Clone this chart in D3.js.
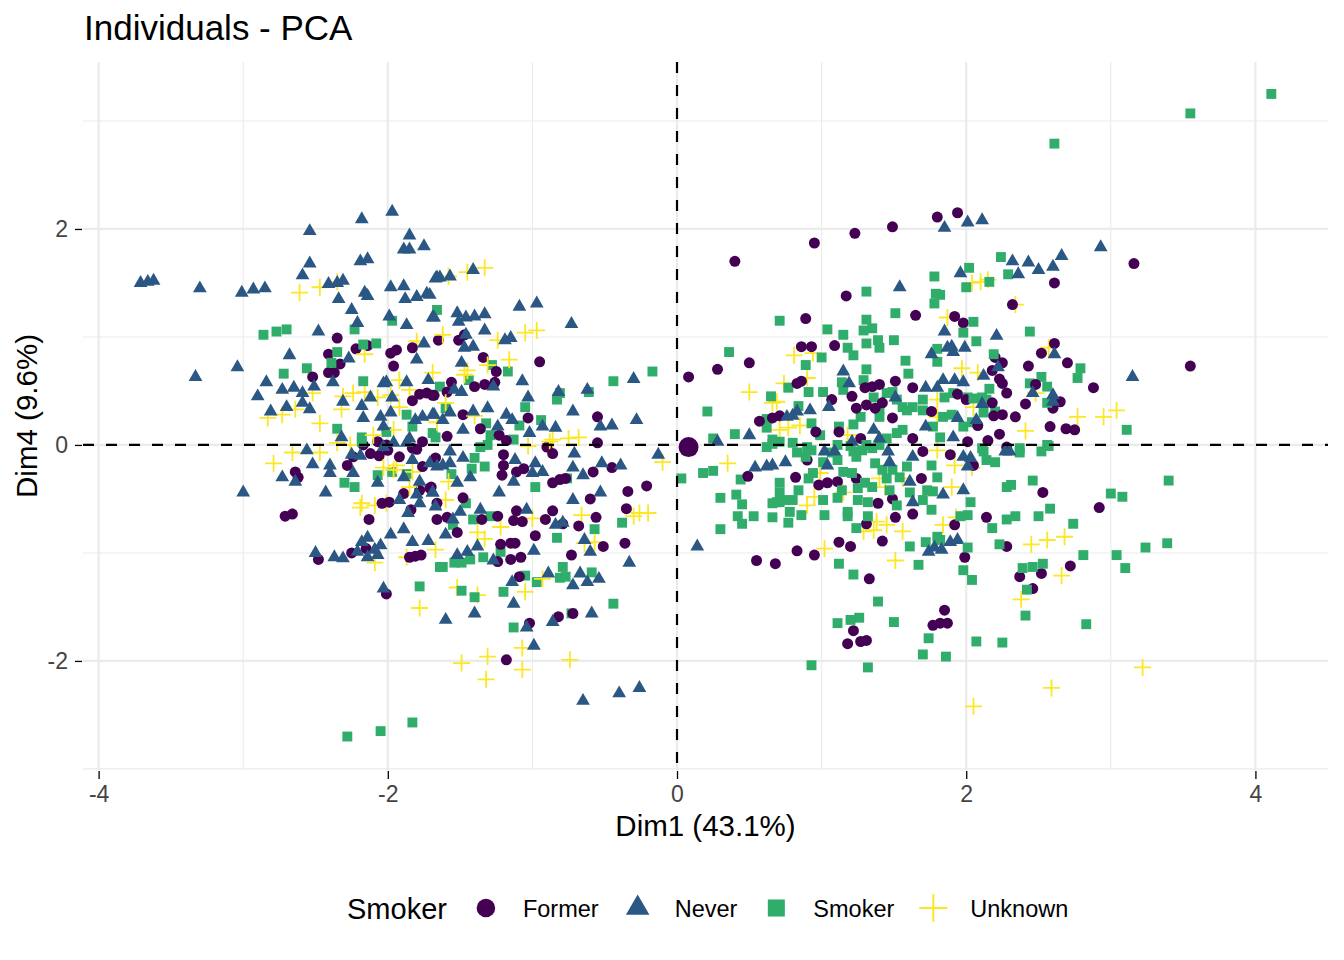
<!DOCTYPE html>
<html>
<head>
<meta charset="utf-8">
<script src="https://cdn.jsdelivr.net/npm/d3@7"></script>
<style>
body { margin: 0; background: #fff; }
text { font-family: "Liberation Sans", Arial, Helvetica, sans-serif; }
</style>
</head>
<body>
<svg id="chart" width="1344" height="960"></svg>
<script>
// categories and colours
var groups = ["Former", "Never", "Smoker", "Unknown"];
var colors = ["#440154", "#2A5783", "#30AD6B", "#FDE725"];

// tick values
var xMajor = [-4, -2, 0, 2, 4];
var xMinor = [-3, -1, 1, 3];
var yMajor = [-2, 0, 2];
var yMinor = [-3, -1, 1, 3];

// individuals, [Dim1, Dim4]
var former = [
[-2.35,0.99],[-2.41,0.84],[-2.22,0.89],[-2.14,0.92],[-2.33,0.75],[-2.41,0.67],[-2.37,0.67],[-2.52,0.63],[-1.98,0.85],[-1.94,0.88],
[-1.96,0.73],[-1.83,0.90],[-1.65,0.97],[-1.83,0.41],[-1.78,0.47],[-1.73,0.48],[-1.69,0.46],[-2.17,0.00],[-2.07,0.03],[-2.01,0.00],
[-1.83,-0.03],[-1.76,0.03],[-1.51,0.97],[-1.47,1.02],[-1.34,0.81],[-1.25,0.68],[-0.95,0.77],[-1.56,0.58],[-1.40,0.54],[-1.33,0.56],
[-1.26,0.58],[-1.68,0.46],[-1.59,0.49],[-1.48,0.28],[-1.03,0.25],[-0.55,0.26],[-1.36,0.15],[-1.23,0.09],[-1.18,0.04],[-1.59,0.08],
[-0.55,0.02],[-0.90,-0.02],[-2.64,-0.25],[-2.62,-0.30],[-2.71,-0.66],[-2.66,-0.64],[-2.28,-0.19],[-2.24,-0.11],[-2.12,-0.08],[-2.06,-0.10],
[-2.00,-0.05],[-1.92,-0.11],[-1.80,-0.04],[-1.76,-0.20],[-1.70,-0.39],[-1.78,-0.42],[-1.89,-0.45],[-2.04,-0.54],[-1.99,-0.53],[-1.84,-0.60],
[-2.13,-0.69],[-1.66,-0.54],[-1.66,-0.69],[-2.25,-1.00],[-2.15,-0.96],[-2.48,-1.06],[-1.85,-1.04],[-1.81,-1.03],[-1.77,-1.02],[-2.01,-1.38],
[-1.67,-0.12],[-1.20,-0.09],[-0.86,-0.08],[-1.20,-0.19],[-1.21,-0.28],[-1.11,-0.25],[-1.06,-0.22],[-0.86,-0.35],[-0.81,-0.32],[-0.77,-0.31],
[-0.58,-0.25],[-0.45,-0.21],[-0.34,-0.43],[-0.21,-0.38],[-1.71,-0.40],[-1.48,-0.49],[-1.59,-0.67],[-1.52,-0.81],[-1.35,-0.69],[-1.24,-0.66],
[-1.11,-0.61],[-1.13,-0.70],[-1.07,-0.71],[-0.86,-0.61],[-0.91,-0.69],[-0.79,-0.73],[-0.68,-0.75],[-0.60,-0.50],[-0.56,-0.67],[-0.35,-0.59],
[-0.98,-0.84],[-1.22,-0.92],[-1.15,-0.91],[-1.12,-0.91],[-0.51,-0.94],[-0.36,-0.91],[-1.24,-1.08],[-1.15,-1.06],[-1.08,-1.04],[-0.73,-1.02],
[-1.09,-1.22],[-0.82,-1.59],[-0.72,-1.56],[-1.02,-1.65],[-1.18,-1.99],
[0.40,1.70],[0.95,1.87],[1.23,1.96],[1.49,2.02],[1.80,2.11],[1.17,1.38],[0.89,1.17],[1.65,1.20],[0.86,0.91],[0.93,0.91],
[1.09,0.92],[0.50,0.76],[0.28,0.70],[0.08,0.63],[0.83,0.57],[0.86,0.59],[1.21,0.45],[1.07,0.42],[1.30,0.53],[1.35,0.54],
[1.40,0.56],[1.51,0.59],[1.63,0.53],[1.24,0.34],[1.31,0.37],[1.37,0.34],[1.42,0.39],[1.49,0.25],[0.57,0.22],[0.66,0.25],
[0.71,0.27],[0.96,0.12],[1.12,0.12],[1.27,0.06],[1.63,0.06],[1.76,0.31],[1.94,2.15],[3.16,1.68],[2.61,1.50],[2.32,1.30],
[1.92,1.19],[1.98,1.13],[2.61,0.94],[2.52,0.85],[3.55,0.73],[2.20,0.81],[2.25,0.76],[2.43,0.73],[2.70,0.76],[2.18,0.69],
[2.23,0.61],[2.25,0.57],[2.48,0.56],[2.88,0.53],[2.28,0.48],[1.94,0.47],[2.00,0.42],[2.41,0.38],[2.65,0.40],[2.60,0.34],
[2.18,0.39],[2.19,0.27],[2.25,0.28],[2.34,0.26],[2.08,0.18],[2.58,0.17],[2.69,0.15],[2.75,0.14],[2.23,0.10],[2.01,0.03],
[2.15,0.04],[2.28,-0.02],[2.92,-0.58],[0.90,-0.14],[0.82,-0.30],[0.49,-0.29],[0.98,-0.37],[1.04,-0.35],[1.11,-0.34],[1.24,-0.31],
[1.70,-0.06],[1.69,-0.31],[1.39,-0.54],[1.49,-0.50],[1.51,-0.67],[1.63,-0.64],[1.31,-0.73],[1.12,-0.90],[1.20,-0.94],[1.42,-0.89],
[0.83,-0.98],[0.95,-1.02],[0.55,-1.07],[0.68,-1.10],[1.33,-1.24],[1.22,-1.72],[1.18,-1.84],[1.27,-1.82],[1.31,-1.81],[1.85,-1.53],
[1.77,-1.67],[1.82,-1.65],[1.87,-1.65],[1.89,-0.09],[2.05,-0.19],[2.53,-0.44],[2.14,-0.67],[1.92,-0.74],[2.28,-0.94],[1.99,-1.04],
[2.72,-1.12],[2.52,-1.19],[2.37,-1.22],[2.46,-1.33]
];

var never = [
[-3.71,1.50],[-3.66,1.51],[-3.62,1.52],[-3.30,1.45],[-3.01,1.41],[-2.93,1.44],[-2.85,1.45],[-2.54,1.98],[-2.18,2.09],[-1.97,2.16],
[-1.85,1.94],[-1.89,1.81],[-1.85,1.81],[-1.75,1.84],[-2.54,1.68],[-2.59,1.57],[-2.19,1.70],[-2.14,1.72],[-2.41,1.49],[-2.35,1.50],
[-2.31,1.52],[-2.34,1.35],[-2.16,1.41],[-2.14,1.38],[-1.98,1.46],[-1.89,1.47],[-1.88,1.35],[-1.80,1.37],[-1.73,1.40],[-1.67,1.54],
[-2.25,1.25],[-2.21,1.13],[-1.99,1.19],[-1.87,1.11],[-1.69,1.18],[-2.48,1.05],[-1.75,0.94],[-1.80,0.79],[-2.27,0.80],[-2.68,0.83],
[-3.04,0.72],[-3.33,0.63],[-2.84,0.58],[-2.90,0.45],[-2.73,0.51],[-2.65,0.53],[-2.59,0.48],[-2.51,0.54],[-2.38,0.58],[-2.81,0.31],
[-2.70,0.35],[-2.59,0.39],[-2.54,0.33],[-2.31,0.40],[-2.18,0.36],[-2.03,0.57],[-2.01,0.58],[-1.87,0.58],[-1.72,0.60],[-2.17,0.25],
[-2.05,0.26],[-1.98,0.30],[-2.12,0.44],[-1.97,0.44],[-1.81,0.23],[-1.76,0.26],[-1.69,0.28],[-2.32,0.07],[-2.03,0.17],[-1.85,0.06],
[-1.66,1.55],[-1.64,1.55],[-1.57,1.56],[-1.41,1.62],[-1.71,1.39],[-1.09,1.28],[-0.97,1.31],[-0.73,1.12],[-1.52,1.22],[-1.46,1.18],
[-1.40,1.19],[-1.33,1.21],[-1.51,1.14],[-1.68,1.18],[-1.33,1.06],[-1.46,1.02],[-1.19,0.97],[-1.15,0.99],[-1.47,0.90],[-1.41,0.91],
[-1.49,0.76],[-1.07,0.59],[-1.27,0.54],[-1.54,0.51],[-1.49,0.49],[-1.03,0.44],[-0.82,0.49],[-0.62,0.51],[-0.30,0.61],[-0.72,0.31],
[-1.31,0.34],[-1.41,0.31],[-1.18,0.28],[-1.14,0.23],[-0.28,0.23],[-0.53,0.17],[-0.45,0.18],[-0.93,0.17],[-0.84,0.16],[-1.02,0.11],
[-1.62,0.23],[-1.57,0.30],[-1.48,0.14],[-1.24,0.17],[-1.68,0.28],
[-2.56,-0.05],[-2.52,-0.18],[-2.40,-0.19],[-2.25,-0.09],[-2.19,-0.10],[-2.73,-0.30],[-2.64,-0.34],[-2.40,-0.26],[-2.24,-0.26],[-2.43,-0.44],
[-3.00,-0.44],[-2.07,-0.35],[-2.03,-0.02],[-1.96,0.02],[-1.87,0.02],[-1.83,-0.14],[-1.71,-0.17],[-1.89,-0.30],[-1.78,-0.34],[-1.92,-0.51],
[-1.80,-0.46],[-1.69,-0.44],[-1.78,-0.54],[-1.86,-0.63],[-1.67,-0.57],[-2.18,-0.90],[-2.14,-0.86],[-2.05,-0.93],[-2.09,-0.97],[-2.07,-1.02],
[-1.98,-0.83],[-1.89,-0.78],[-1.83,-0.90],[-1.72,-0.89],[-2.50,-1.00],[-2.37,-1.04],[-2.31,-1.05],[-2.21,-0.99],[-2.14,-1.04],[-2.03,-1.33],
[-1.57,-0.06],[-1.57,-0.17],[-1.66,-0.20],[-1.62,-0.19],[-1.48,-0.12],[-1.43,-0.30],[-1.52,-0.35],[-1.69,-0.44],[-1.12,-0.14],[-0.98,-0.17],
[-0.93,-0.25],[-1.00,-0.26],[-1.13,-0.34],[-1.23,-0.44],[-0.71,-0.08],[-0.72,-0.21],[-0.65,-0.28],[-0.52,-0.17],[-0.39,-0.19],[-0.53,-0.44],
[-0.72,-0.51],[-0.13,-0.09],[-1.36,-0.60],[-1.50,-0.62],[-1.55,-0.69],[-1.04,-0.60],[-0.84,-0.74],[-0.79,-0.72],[-1.60,-0.83],[-0.64,-0.88],
[-0.60,-0.99],[-0.99,-0.98],[-1.27,-1.07],[-1.52,-1.02],[-1.45,-0.99],[-1.38,-0.94],[-0.33,-1.09],[-1.14,-1.27],[-0.89,-1.19],[-0.72,-1.30],
[-0.67,-1.19],[-0.62,-1.27],[-0.54,-1.24],[-1.13,-1.47],[-1.40,-1.56],[-1.60,-1.62],[-0.86,-1.64],[-0.59,-1.56],[-1.04,-1.69],[-0.99,-1.86],
[-0.65,-2.37],[-0.40,-2.30],[-0.26,-2.25],[0.14,-0.94],
[1.54,1.46],[1.85,2.01],[1.15,0.68],[1.19,0.57],[0.92,0.32],[0.83,0.31],[0.76,0.26],[0.80,0.27],[1.05,0.35],[0.50,0.09],
[0.28,0.03],[1.36,0.14],[1.51,0.44],[1.72,0.53],[1.84,0.60],[1.80,0.53],[1.72,0.17],[1.76,0.84],[1.87,0.90],[1.85,1.05],
[1.40,0.06],[2.01,2.06],[2.11,2.08],[2.93,1.83],[2.66,1.75],[2.32,1.70],[2.43,1.69],[2.50,1.62],[2.60,1.65],[2.36,1.58],
[1.96,1.59],[2.21,1.01],[1.90,0.91],[1.91,0.86],[1.99,0.90],[2.61,0.84],[2.22,0.72],[2.12,0.64],[1.92,0.60],[1.98,0.58],
[3.15,0.63],[2.46,0.48],[2.60,0.46],[2.60,0.40],[2.11,0.38],[1.94,0.25],[2.07,0.23],[1.91,0.07],
[0.54,-0.21],[0.62,-0.20],[0.66,-0.19],[0.75,-0.16],[1.04,-0.19],[1.02,-0.06],[1.09,-0.06],[1.21,0.03],[1.46,-0.06],[1.47,-0.16],
[1.63,-0.11],[1.61,-0.34],[1.63,-0.53],[1.84,-0.46],[1.74,-0.99],[1.78,-0.95],[1.83,-0.97],[1.98,-0.11],[2.03,-0.12],[2.27,-0.06],
[2.30,-0.06],[2.01,-0.20],[1.98,-0.42],[1.89,-0.90],[1.94,-0.88]
];

var smoker = [
[-2.86,1.02],[-2.77,1.05],[-2.70,1.07],[-2.72,0.66],[-2.56,0.71],[-2.23,1.07],[-2.35,0.86],[-2.39,0.76],[-2.08,0.94],[-2.17,0.93],
[-1.97,1.15],[-1.66,1.25],[-2.17,0.59],[-1.64,0.54],[-1.87,0.28],[-1.83,0.17],[-2.35,0.15],[-2.18,0.07],[-2.01,0.12],[-1.69,0.11],
[-1.28,0.74],[-1.17,0.68],[-1.44,0.60],[-1.60,0.34],[-0.81,0.48],[-0.83,0.42],[-0.61,0.49],[-0.44,0.59],[-0.17,0.68],[-1.05,0.35],
[-0.94,0.23],[-1.09,0.18],[-1.32,0.20],[-1.67,0.07],[-1.29,0.09],[-1.13,0.05],[-1.36,-0.02],
[-2.30,-0.35],[-2.23,-0.39],[-2.07,-0.28],[-1.97,-0.25],[-1.87,-0.27],[-1.78,-1.31],[-1.64,-1.13],[-2.28,-2.70],[-2.05,-2.65],[-1.83,-2.57],
[-2.18,0.03],[-1.56,-0.27],[-1.42,-0.22],[-1.33,-0.20],[-1.40,-0.12],[-1.31,0.00],[-0.98,-0.39],[-0.76,-0.31],[-1.46,-0.54],[-1.41,-0.69],
[-1.29,-0.66],[-1.55,-0.74],[-0.83,-0.86],[-0.57,-0.78],[-0.38,-0.72],[0.03,-0.31],[-1.22,-0.99],[-1.62,-1.13],[-1.54,-1.09],[-1.49,-1.09],
[-1.43,-1.06],[-1.34,-1.04],[-1.05,-1.21],[-0.97,-1.27],[-0.79,-1.13],[-0.81,-1.23],[-0.77,-1.22],[-0.59,-1.18],[-1.49,-1.35],[-1.40,-1.41],
[-1.20,-1.36],[-0.44,-1.47],[-0.73,-1.56],[-1.13,-1.69],
[1.78,1.56],[1.79,1.40],[1.78,1.31],[1.31,1.42],[1.51,1.22],[0.71,1.15],[1.04,1.07],[1.15,1.02],[1.31,1.16],[1.35,1.08],
[1.29,1.06],[1.31,0.94],[1.39,0.97],[1.40,0.90],[1.50,0.97],[1.18,0.90],[1.22,0.83],[1.00,0.81],[0.36,0.86],[0.89,0.74],
[1.58,0.78],[1.80,0.89],[1.80,0.77],[1.31,0.70],[1.60,0.66],[0.21,0.31],[0.40,0.10],[0.25,0.06],[0.65,0.45],[0.77,0.53],
[0.91,0.49],[1.01,0.49],[1.14,0.58],[1.15,0.51],[1.29,0.60],[0.84,0.36],[0.93,0.20],[0.62,0.24],[0.62,0.16],[0.66,0.05],
[0.71,0.03],[0.99,0.09],[1.12,0.17],[1.22,0.19],[1.27,0.26],[1.40,0.33],[1.40,0.26],[1.36,0.44],[1.45,0.48],[1.49,0.49],
[1.52,0.42],[1.56,0.35],[1.59,0.32],[1.63,0.35],[1.56,0.14],[1.52,0.11],[1.45,0.06],[1.70,0.42],[1.70,0.32],[1.85,0.44],
[1.84,0.26],[1.77,0.17],[1.82,0.07],[0.80,0.02],[0.90,-0.02],[1.11,0.00],[1.20,-0.01],[1.31,0.00],[1.40,0.00],
[2.24,1.74],[2.02,1.64],[2.00,1.46],[2.29,1.58],[2.16,1.51],[1.82,1.39],[2.05,1.14],[1.98,1.04],[2.07,0.96],[2.44,1.05],
[2.19,0.84],[2.79,0.71],[2.77,0.62],[2.52,0.63],[2.56,0.54],[2.44,0.57],[2.16,0.52],[2.14,0.42],[2.11,0.44],[1.91,0.48],
[2.01,0.44],[2.05,0.43],[2.20,0.31],[2.12,0.30],[2.56,0.39],[1.90,0.28],[1.98,0.17],[2.04,0.21],[3.11,0.14],[2.56,0.00],
[2.37,-0.03],[2.11,-0.03],
[0.18,-0.26],[0.25,-0.24],[0.44,-0.32],[0.30,-0.49],[0.41,-0.46],[0.45,-0.55],[0.42,-0.66],[0.45,-0.73],[0.53,-0.66],[0.30,-0.78],
[0.66,-0.67],[0.66,-0.54],[0.71,-0.53],[0.75,-0.51],[0.71,-0.35],[0.78,-0.62],[0.77,-0.72],[0.86,-0.65],[0.80,-0.51],[0.84,-0.42],
[1.02,-0.65],[0.91,-0.31],[0.94,-0.26],[1.01,-0.51],[1.11,-0.49],[1.11,-0.14],[1.14,-0.42],[1.18,-0.66],[1.18,-0.62],[1.21,-0.26],
[1.25,-0.51],[1.25,-0.40],[1.32,-0.53],[1.30,-0.35],[1.35,-0.39],[1.37,-0.17],[1.42,-0.23],[1.24,-0.77],[1.32,-0.66],[1.22,-0.06],
[1.28,-0.05],[1.24,-0.11],[1.35,-0.03],[1.47,-0.42],[1.52,-0.56],[1.54,-0.30],[1.59,-0.20],[1.61,-0.44],[1.70,-0.51],[1.73,-0.42],
[1.76,-0.19],[1.80,-0.30],[1.76,-0.60],[1.77,-0.43],[1.72,-0.90],[1.80,-0.85],[1.82,-0.88],[1.61,-0.94],[1.67,-1.11],[1.12,-1.10],
[1.22,-1.20],[1.39,-1.45],[1.11,-1.65],[1.20,-1.62],[1.26,-1.60],[1.50,-1.64],[1.74,-1.79],[1.70,-1.94],[1.86,-1.96],[0.93,-2.04],
[1.32,-2.06],[0.83,-0.07],[0.89,-0.11],[0.93,-0.05],[1.01,-0.16],[1.07,-0.07],[1.15,-0.25],[1.45,-0.31],[1.49,-0.23],[0.62,-0.02],
[0.66,0.01],[0.71,-0.44],[0.69,-0.53],
[2.12,-0.06],[2.14,-0.14],[2.20,-0.16],[2.37,-0.07],[2.52,-0.06],[2.57,-0.01],[2.28,-0.39],[2.31,-0.37],[2.46,-0.33],[2.03,-0.53],
[2.01,-0.65],[1.96,-0.66],[2.28,-0.69],[2.34,-0.66],[2.50,-0.66],[2.58,-0.59],[2.74,-0.73],[2.18,-0.77],[2.23,-0.92],[2.01,-0.95],
[3.00,-0.45],[3.08,-0.48],[3.40,-0.33],[2.81,-1.02],[3.04,-1.02],[3.24,-0.95],[3.39,-0.91],[3.10,-1.14],[2.39,-1.14],[2.46,-1.13],
[2.53,-1.10],[1.98,-1.16],[2.04,-1.25],[2.42,-1.34],[2.41,-1.58],[2.83,-1.66],[2.07,-1.82],[2.25,-1.83],
[2.61,2.79],[3.55,3.07],[4.11,3.25]
];

var unknown = [
[-2.61,1.41],[-2.47,1.46],[-2.35,1.51],[-2.16,0.84],[-1.80,0.96],[-1.92,0.60],[-1.69,0.67],[-2.31,0.45],[-2.24,0.48],[-2.16,0.49],
[-2.07,0.44],[-1.98,0.46],[-1.85,0.51],[-2.52,0.48],[-2.32,0.33],[-1.92,0.35],[-2.83,0.25],[-2.73,0.28],[-2.64,0.33],[-2.47,0.20],
[-2.10,0.09],[-1.96,0.14],[-1.66,0.21],[-1.58,1.56],[-1.45,1.60],[-1.33,1.64],[-1.62,1.02],[-1.24,0.97],[-1.05,1.04],[-0.97,1.06],
[-1.16,0.79],[-1.31,0.74],[-1.45,0.69],[-1.47,0.65],[-1.60,0.39],[-1.40,0.27],[-0.75,0.06],[-0.68,0.07],[-0.86,0.05],[-1.03,-0.01],
[-2.79,-0.17],[-2.66,-0.07],[-2.47,-0.07],[-2.35,0.02],[-2.26,0.00],[-2.18,-0.54],[-2.19,-0.58],[-2.09,-0.56],[-2.01,-0.54],[-2.03,-0.21],
[-1.94,-0.19],[-1.96,-0.23],[-1.83,-0.25],[-2.09,-1.09],[-1.78,-1.51],[-1.67,-0.97],[-1.87,-1.04],[-1.85,-0.39],
[-0.88,0.03],[-0.10,-0.16],[-1.60,-0.51],[-1.58,-0.34],[-1.00,-0.68],[-1.22,-0.76],[-1.38,-0.81],[-1.33,-0.87],[-0.66,-0.65],[-0.30,-0.66],
[-0.26,-0.63],[-0.20,-0.63],[-0.64,-0.91],[-0.57,-0.90],[-0.93,-1.24],[-1.05,-1.36],[-1.52,-1.32],[-1.38,-1.39],[-1.07,-1.88],[-1.31,-1.96],
[-1.49,-2.02],[-1.07,-2.08],[-1.32,-2.17],[-0.74,-1.99],
[0.81,0.83],[0.94,0.85],[0.50,0.49],[0.74,0.57],[0.90,0.62],[0.69,0.40],[0.66,0.39],[0.71,0.14],[0.77,0.16],[0.85,0.18],
[1.18,0.09],[1.80,0.42],[1.80,0.26],[2.04,1.50],[2.10,1.51],[2.15,1.53],[2.34,1.30],[1.87,1.18],[2.57,0.90],[1.97,0.71],
[2.08,0.67],[2.48,0.48],[2.77,0.26],[3.04,0.32],[2.95,0.26],[2.41,0.13],[2.05,0.35],
[0.35,-0.17],[0.95,-0.48],[0.90,-0.56],[1.02,-0.96],[1.15,-0.44],[0.99,-0.26],[1.29,-0.80],[1.38,-0.71],[1.36,-0.79],[1.45,-0.74],
[1.56,-0.80],[1.51,-1.07],[1.40,-0.31],[1.44,-0.39],[1.56,-0.31],[1.80,-0.05],[1.84,-0.74],
[1.92,-0.19],[2.04,-0.21],[1.90,-0.39],[1.93,-0.67],[2.45,-0.92],[2.56,-0.88],[2.68,-0.85],[2.66,-1.21],[2.38,-1.43],[3.22,-2.06],
[2.59,-2.25],[2.05,-2.42]
];

// group mean point (drawn larger)
var centroid = [0.08, -0.02];

var series = [former, never, smoker, unknown];

var svg = d3.select("#chart");
var pLeft = 83, pRight = 1328, pTop = 62, pBottom = 770;

var x = d3.scaleLinear().domain([-4.108, 4.502]).range([pLeft, pRight]);
var y = d3.scaleLinear().domain([-3.01, 3.546]).range([pBottom, pTop]);

// grid
var grid = svg.append("g");
function vlines(vals, w) {
	grid.selectAll(null).data(vals).enter().append("line")
		.attr("x1", function(d) { return x(d); }).attr("x2", function(d) { return x(d); })
		.attr("y1", pTop).attr("y2", pBottom)
		.attr("stroke", "#EBEBEB").attr("stroke-width", w);
}
function hlines(vals, w) {
	grid.selectAll(null).data(vals).enter().append("line")
		.attr("y1", function(d) { return y(d); }).attr("y2", function(d) { return y(d); })
		.attr("x1", pLeft).attr("x2", pRight)
		.attr("stroke", "#EBEBEB").attr("stroke-width", w);
}
vlines(xMinor, 1.1);
hlines(yMinor, 1.1);
vlines(xMajor, 2.2);
hlines(yMajor, 2.2);

// axes
var xAxis = svg.append("g")
	.attr("transform", "translate(0," + (pBottom + 1) + ")")
	.call(d3.axisBottom(x).tickValues(xMajor).tickSize(8).tickPadding(7).tickFormat(String));
var yAxis = svg.append("g")
	.attr("transform", "translate(" + (pLeft - 1) + ",0)")
	.call(d3.axisLeft(y).tickValues(yMajor).tickSize(7).tickPadding(7).tickFormat(String));
[xAxis, yAxis].forEach(function(a) {
	a.select(".domain").remove();
	a.selectAll(".tick line").attr("stroke", "#000").attr("stroke-width", 1.3);
	a.selectAll(".tick text").attr("fill", "#444")
		.style("font-size", "23px")
		.style("font-family", "'Liberation Sans', Arial, sans-serif");
});

// points, mixed so no group sits fully on top
var pts = [];
var maxLen = d3.max(series, function(s) { return s.length; });
for (var i = 0; i < maxLen; i++) {
	series.forEach(function(s, k) {
		if (i < s.length) pts.push({ g: k, x: s[i][0], y: s[i][1] });
	});
}

var shapes = [
	d3.symbol().type(d3.symbolCircle).size(95)(),
	d3.symbol().type(d3.symbolTriangle).size(82)(),
	d3.symbol().type(d3.symbolSquare).size(98)(),
	"M-8.5,0H8.5M0,-8.5V8.5"
];

svg.append("g").selectAll("path").data(pts).enter().append("path")
	.attr("transform", function(d) { return "translate(" + x(d.x) + "," + y(d.y) + ")"; })
	.attr("d", function(d) { return shapes[d.g]; })
	.attr("fill", function(d) { return d.g == 3 ? "none" : colors[d.g]; })
	.attr("stroke", function(d) { return d.g == 3 ? colors[3] : "none"; })
	.attr("stroke-width", 1.8);

// reference lines
svg.append("line")
	.attr("x1", x(0)).attr("x2", x(0)).attr("y1", pTop).attr("y2", pBottom)
	.attr("stroke", "#000").attr("stroke-width", 2.2).attr("stroke-dasharray", "11,12");
svg.append("line")
	.attr("x1", pLeft).attr("x2", pRight).attr("y1", y(0)).attr("y2", y(0))
	.attr("stroke", "#000").attr("stroke-width", 2.2).attr("stroke-dasharray", "11,12");

// mean point
svg.append("circle")
	.attr("cx", x(centroid[0])).attr("cy", y(centroid[1])).attr("r", 10)
	.attr("fill", colors[0]);

// titles
svg.append("text").attr("x", 84).attr("y", 40)
	.style("font-size", "35px").attr("fill", "#000").text("Individuals - PCA");
svg.append("text").attr("x", (pLeft + pRight) / 2).attr("y", 836)
	.attr("text-anchor", "middle").style("font-size", "29.5px").attr("fill", "#000")
	.text("Dim1 (43.1%)");
svg.append("text").attr("transform", "translate(37," + ((pTop + pBottom) / 2) + ") rotate(-90)")
	.attr("text-anchor", "middle").style("font-size", "29.5px").attr("fill", "#000")
	.text("Dim4 (9.6%)");

// legend
var legend = svg.append("g");
var lt = legend.append("text").attr("x", 347).attr("y", 919)
	.style("font-size", "29px").attr("fill", "#000").text("Smoker");
var cursor = 347 + lt.node().getComputedTextLength();
var legendShapes = [
	d3.symbol().type(d3.symbolCircle).size(270)(),
	d3.symbol().type(d3.symbolTriangle).size(240)(),
	d3.symbol().type(d3.symbolSquare).size(290)(),
	"M-14,0H14M0,-14V14"
];
groups.forEach(function(name, k) {
	var kx = cursor + 39;
	legend.append("path")
		.attr("transform", "translate(" + kx + ",908)")
		.attr("d", legendShapes[k])
		.attr("fill", k == 3 ? "none" : colors[k])
		.attr("stroke", k == 3 ? colors[3] : "none")
		.attr("stroke-width", 2);
	var t = legend.append("text").attr("x", kx + 37).attr("y", 917)
		.style("font-size", "23.5px").attr("fill", "#000").text(name);
	cursor = kx + 37 + t.node().getComputedTextLength();
});
</script>
</body>
</html>
